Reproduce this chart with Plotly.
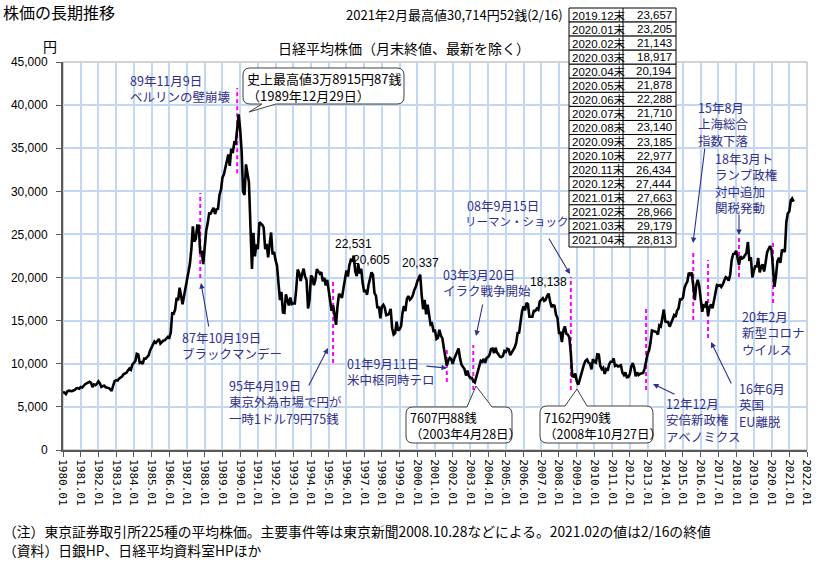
import plotly.graph_objects as go
import pandas as pd

# ---------------- data (monthly closes, yen) ----------------
nikkei_1980s = [
    6690, 6660, 6490, 6800, 6880, 6840, 6820, 6900, 6960, 7140, 7190, 7116,
    7300, 7250, 7460, 7630, 7730, 7830, 7900, 7780, 7300, 7600, 7520, 7682,
    7950, 7700, 7320, 7420, 7450, 7280, 7250, 7180, 7040, 6860, 7480, 8017,
    8090, 8050, 8280, 8410, 8510, 8780, 8900, 8960, 9210, 9440, 9310, 9894,
    10100, 10300, 11160, 11080, 10100, 10180, 9980, 10610, 10600, 10800, 10990, 11543,
    11890, 12260, 12590, 12420, 12710, 12880, 12340, 12550, 12700, 12720, 12940, 13113,
    13020, 13640, 15860, 15820, 16270, 17650, 17350, 18820, 17850, 16910, 17850, 18701,
    20024, 20767, 21567, 23274, 25929, 24176, 24488, 26029, 26011, 22765, 23094, 21564,
    23719, 25436, 26260, 27434, 27417, 27770, 28093, 27366, 27924, 27986, 29579, 30159,
    31581, 31986, 32839, 33713, 34267, 32949, 34954, 34431, 35637, 35549, 37269, 38916,
]
nikkei_1990s = [
    37189, 34592, 29980, 29585, 33131, 31940, 31036, 25978, 20984, 25194, 22455, 23849,
    23293, 26409, 26292, 26111, 25790, 23291, 23900, 22336, 23916, 25222, 22688, 22984,
    22023, 21339, 19346, 17391, 18348, 15952, 15910, 18061, 17399, 16768, 17684, 16925,
    17024, 17005, 18591, 20919, 20552, 19590, 20380, 21027, 20106, 19704, 16408, 17417,
    20229, 19997, 19112, 19725, 20974, 20644, 20449, 20629, 19564, 19990, 19076, 19723,
    18650, 17053, 16140, 16807, 15437, 14517, 16678, 18117, 17913, 17655, 18744, 19868,
    20813, 20125, 21407, 22041, 21956, 22531, 20693, 20167, 21556, 20467, 21020, 19361,
    18330, 18557, 18003, 19151, 20069, 20605, 20331, 18229, 17888, 16459, 16637, 15259,
    16628, 16832, 16527, 15641, 15671, 15831, 16379, 14108, 13406, 13565, 14884, 13842,
    14000, 14368, 15837, 16702, 16112, 17530, 17862, 17437, 17605, 17943, 18558, 18934,
]
nikkei_2000s = [
    19540, 19960, 20337, 17974, 16332, 17411, 15727, 16861, 15747, 14540, 14649, 13786,
    13844, 12884, 12999, 13934, 13262, 12969, 11861, 10714, 9775, 10367, 10697, 10543,
    9998, 10588, 11025, 11493, 11764, 10622, 9878, 9619, 9383, 8640, 9216, 8579,
    8340, 8363, 7973, 7831, 8425, 9083, 9563, 10344, 10219, 10560, 10101, 10677,
    10784, 11042, 11715, 11762, 11237, 11859, 11326, 11082, 10824, 10771, 10899, 11489,
    11388, 11741, 11669, 11009, 11277, 11584, 11900, 12414, 13574, 13607, 14872, 16111,
    16650, 16205, 17060, 16906, 15467, 15505, 15457, 16141, 16128, 16399, 16274, 17226,
    17383, 17604, 17288, 17400, 17876, 18138, 17249, 16569, 16786, 16737, 15681, 15308,
    13592, 13604, 12526, 13850, 14339, 13482, 13377, 13073, 11260, 8577, 8512, 8860,
    7994, 7568, 8110, 8828, 9523, 9958, 10357, 10493, 10133, 10035, 9346, 10546,
]
nikkei_2010s = [
    10198, 10126, 11090, 11057, 9769, 9383, 9537, 8824, 9369, 9202, 9937, 10229,
    10238, 10624, 9755, 9850, 9694, 9816, 9833, 8955, 8700, 8988, 8435, 8455,
    8803, 9723, 10084, 9521, 8543, 9007, 8695, 8840, 8870, 8928, 9446, 10395,
    11139, 11559, 12398, 13861, 13775, 13677, 13668, 13389, 14456, 14328, 15662, 16291,
    14915, 14841, 14828, 14304, 14632, 15162, 15621, 15425, 16174, 16414, 17460, 17451,
    17674, 18798, 19207, 19520, 20563, 20236, 20585, 18890, 17388, 19083, 19747, 19034,
    17518, 16027, 16759, 16666, 17235, 15576, 16569, 16887, 16450, 17425, 18308, 19114,
    19041, 19119, 18909, 19197, 19651, 20033, 19925, 19646, 20356, 22012, 22725, 22765,
    23098, 22068, 21454, 22468, 22202, 22305, 22554, 22865, 24120, 21920, 22351, 20015,
    20773, 21385, 21206, 22259, 20601, 21276, 21522, 20704, 21756, 22927, 23294, 23657,
]
nikkei_2020s = [
    23205, 21143, 18917, 20194, 21878, 22288, 21710, 23140, 23185, 22977, 26434, 27444,
    27663, 28966, 29179, 28813,
]

table_labels = ["2019.12末", "2020.01末", "2020.02末", "2020.03末", "2020.04末", "2020.05末",
                "2020.06末", "2020.07末", "2020.08末", "2020.09末", "2020.10末", "2020.11末",
                "2020.12末", "2021.01末", "2021.02末", "2021.03末", "2021.04末"]
table_values = [23657, 23205, 21143, 18917, 20194, 21878, 22288, 21710, 23140, 23185,
                22977, 26434, 27444, 27663, 28966, 29179, 28813]

event_months = ["1987-10", "1989-11", "1995-04", "2001-09", "2003-03", "2008-09",
                "2012-12", "2015-08", "2016-06", "2018-03", "2020-02"]
event_low = [19950, 32100, 10090, 7890, 6960, 6960, 6960, 15080, 12990, 20060, 17050]
event_high = [29800, 41980, 19830, 11950, 12180, 20060, 16590, 23200, 22040, 24940, 24120]

peak_months = ["1996-06", "1997-06", "2000-03", "2007-06"]

# ---------------- build ----------------
values = nikkei_1980s + nikkei_1990s + nikkei_2000s + nikkei_2010s + nikkei_2020s
months = pd.date_range("1980-01-01", periods=len(values), freq="MS")
series = pd.Series(values, index=months)

L, T, R, B = 63, 62, 807, 450
W, H = 834, 564


def px(x):
    return (x - L) / (R - L)


def py(y):
    return (B - y) / (B - T)


def P(x, y):
    return f"{px(x):.5f},{py(y):.5f}"


NAVY = "#30308c"
JP = "Noto Sans CJK JP"
FS = 12.5
annotations = []
shapes = []


def text_block(lines, x, y_first, dy, size=FS, color=NAVY, family=JP, anchor="left"):
    yc = y_first + (len(lines) - 1) * dy / 2
    annotations.append(dict(xref="paper", yref="paper", x=px(x), y=py(yc),
                            text="<br>".join(lines), showarrow=False, xanchor=anchor,
                            yanchor="middle", align=anchor, borderpad=0,
                            font=dict(family=family, size=size, color=color)))


def arrow(tx, ty, hx, hy):
    annotations.append(dict(xref="paper", yref="paper", x=px(hx), y=py(hy), text="",
                            showarrow=True, ax=tx - hx, ay=ty - hy, arrowhead=2,
                            arrowsize=1, arrowwidth=1.1, arrowcolor=NAVY, standoff=0))


def bubble(x0, y0, x1, y1, r, side, tb0, tip, tb1):
    p = ["M " + P(x0 + r, y0)]
    if side == "top":
        p += ["L " + P(tb0, y0), "L " + P(*tip), "L " + P(tb1, y0)]
    p += ["L " + P(x1 - r, y0), "Q " + P(x1, y0) + " " + P(x1, y0 + r),
          "L " + P(x1, y1 - r), "Q " + P(x1, y1) + " " + P(x1 - r, y1)]
    if side == "bottom":
        p += ["L " + P(tb1, y1), "L " + P(*tip), "L " + P(tb0, y1)]
    p += ["L " + P(x0 + r, y1), "Q " + P(x0, y1) + " " + P(x0, y1 - r),
          "L " + P(x0, y0 + r), "Q " + P(x0, y0) + " " + P(x0 + r, y0), "Z"]
    shapes.append(dict(type="path", xref="paper", yref="paper", path=" ".join(p),
                       fillcolor="white", line=dict(color="#404040", width=1), layer="above"))


fig = go.Figure()

# event lines (magenta dashed)
ex, ey = [], []
for m, lo, hi in zip(event_months, event_low, event_high):
    d = pd.Timestamp(m + "-01")
    ex += [d, d, None]
    ey += [lo, hi, None]
fig.add_trace(go.Scatter(x=ex, y=ey, mode="lines", hoverinfo="skip",
                         line=dict(color="#ff00ff", width=2, dash="4px,3px")))

fig.add_trace(go.Scatter(x=series.index, y=series.values, mode="lines",
                         line=dict(color="black", width=2.6)))

# frame (top/right light gray)
shapes.append(dict(type="rect", xref="paper", yref="paper", x0=0, x1=1, y0=0, y1=1,
                   line=dict(color="#a6a6a6", width=1), layer="between"))

# peak labels
for m in peak_months:
    d = pd.Timestamp(m + "-01")
    v = series[d]
    annotations.append(dict(x=d, y=v, xref="x", yref="y", text=f"{v:,}", showarrow=False,
                            yanchor="bottom", yshift=3,
                            font=dict(family="Liberation Sans", size=12, color="black")))

# callouts
bubble(243, 68, 404, 104, 7, "bottom", 262, (249, 112), 276)
text_block(["史上最高値3万8915円87銭", "（1989年12月29日）"], 246, 79, 15, size=13, color="black")
bubble(406, 407, 512, 443, 7, "top", 467, (476, 386), 492)
text_block(["7607円88銭", "（2003年4月28日）"], 409, 418, 15, size=12.5, color="black")
bubble(540, 406, 653, 443, 7, "top", 565, (577, 389), 587)
text_block(["7162円90銭", "（2008年10月27日）"], 543, 418, 15, size=12.5, color="black")

# event texts
text_block(["89年11月9日", "ベルリンの壁崩壊"], 129, 81, 16)
text_block(["87年10月19日", "ブラックマンデー"], 181, 338, 15)
arrow(209, 328, 201, 283)
text_block(["95年4月19日", "東京外為市場で円が", "一時1ドル79円75銭"], 228, 387, 15)
arrow(308, 387, 328, 348)
text_block(["01年9月11日", "米中枢同時テロ"], 346, 364, 15)
arrow(425, 366, 447, 368)
text_block(["03年3月20日", "イラク戦争開始"], 442, 274, 16)
arrow(483, 303, 476, 336)
text_block(["08年9月15日"], 466, 205, 15)
text_block(["リーマン・ショック"], 464, 221, 15, size=11.5)
arrow(548, 237, 570, 274)
text_block(["12年12月", "安倍新政権", "アベノミクス"], 665, 404, 16)
arrow(676, 395, 653, 384)
text_block(["15年8月", "上海総合", "指数下落"], 697, 108, 16)
arrow(705, 147, 693, 243)
text_block(["16年6月", "英国", "EU離脱"], 738, 389, 16)
arrow(732, 385, 711, 342)
text_block(["18年3月ト", "ランプ政権", "対中追加", "関税発動"], 714, 160, 15)
arrow(739, 213, 739, 235)
text_block(["20年2月", "新型コロナ", "ウイルス"], 741, 318, 15)

# titles
text_block(["株価の長期推移"], 2, 12, 0, size=16, color="black")
text_block(["2021年2月最高値30,714円52銭(2/16)"], 564, 15, 0, size=13, color="black",
           anchor="right")
text_block(["円"], 42, 46, 0, size=14, color="black")
text_block(["日経平均株価（月末終値、最新を除く）"], 277, 48, 0, size=14, color="black")
text_block(["（注）東京証券取引所225種の平均株価。主要事件等は東京新聞2008.10.28などによる。2021.02の値は2/16の終値"],
           2, 531, 0, size=13.8, color="black")
text_block(["（資料）日銀HP、日経平均資料室HPほか"], 2, 550, 0, size=13.8, color="black")

# table
row_h = (247 - 8) / len(table_labels)
for i, (lab, val) in enumerate(zip(table_labels, table_values)):
    y0 = 8 + i * row_h
    y1 = y0 + row_h
    shapes.append(dict(type="rect", xref="paper", yref="paper", x0=px(569), x1=px(676),
                       y0=py(y1), y1=py(y0), fillcolor="white",
                       line=dict(color="black", width=1), layer="above"))
    shapes.append(dict(type="line", xref="paper", yref="paper", x0=px(623), x1=px(623),
                       y0=py(y1), y1=py(y0), line=dict(color="black", width=1), layer="above"))
    text_block([lab], 571, (y0 + y1) / 2, 0, size=11.5, color="black",
               family="Liberation Sans, Noto Sans CJK JP")
    text_block([f"{val:,}"], 673, (y0 + y1) / 2, 0, size=11.5, color="black",
               family="Liberation Sans", anchor="right")

grid = "#c2d7f2"
fig.update_layout(
    width=W, height=H,
    margin=dict(l=L, r=W - R, t=T, b=H - B, pad=0),
    paper_bgcolor="white", plot_bgcolor="white",
    showlegend=False,
    shapes=shapes, annotations=annotations,
    xaxis=dict(type="date", range=["1980-01-01", "2022-01-01"], tick0="1980-01-01",
               dtick="M12", tickformat="%Y.%m", tickangle=90, ticks="outside", ticklen=5,
               tickcolor="#595959", showgrid=True, gridcolor=grid, gridwidth=1.5,
               showline=True, linecolor="#595959", linewidth=2, zeroline=False,
               tickfont=dict(family="DejaVu Sans Mono", size=11, color="black")),
    yaxis=dict(range=[0, 45000], dtick=5000, tickformat=",", ticks="outside", ticklen=5,
               tickcolor="#595959", showgrid=True, gridcolor=grid, gridwidth=1.5,
               showline=True, linecolor="#595959", linewidth=2, zeroline=False,
               ticklabelstandoff=6,
               tickfont=dict(family="Liberation Sans", size=12, color="black")),
)

fig.write_html("out.html", config={"displayModeBar": False},
               post_script="document.body.style.margin='0';document.body.style.overflow='hidden';")
